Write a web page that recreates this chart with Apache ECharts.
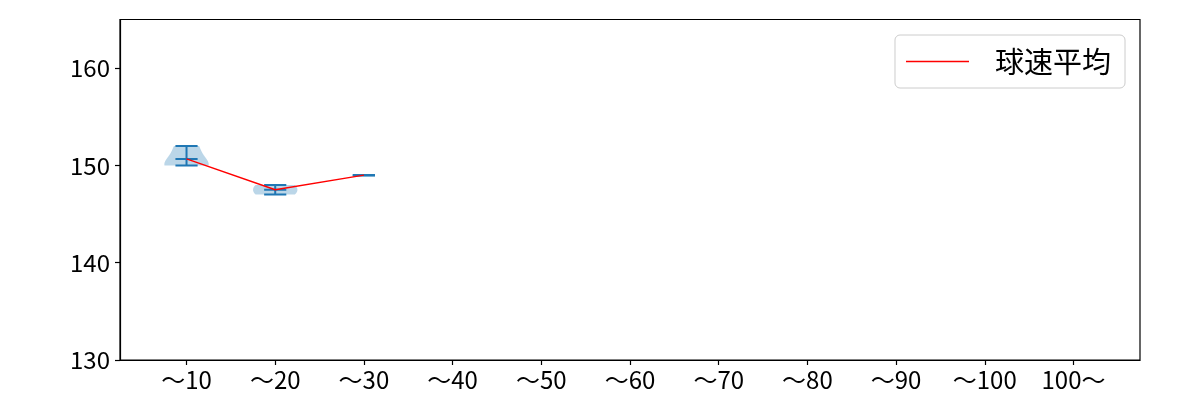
<!DOCTYPE html>
<html>
<head>
<meta charset="utf-8">
<script src="https://cdn.jsdelivr.net/npm/echarts@6/dist/echarts.min.js"></script>
<style>
html,body{margin:0;padding:0;background:#fff;}
#chart{width:1200px;height:400px;}
</style>
</head>
<body>
<div id="chart"></div>
<script>
// ---- data ----
const categories = ['～10','～20','～30','～40','～50','～60','～70','～80','～90','～100','100～'];
const speeds10 = [150, 150, 152];
const speeds20 = [147, 148];
const speeds30 = [149];
const speeds40 = [];
const speeds50 = [];
const speeds60 = [];
const speeds70 = [];
const speeds80 = [];
const speeds90 = [];
const speeds100 = [];
const speedsOver100 = [];
const yTicks = [130, 140, 150, 160];
const legendName = '球速平均';

const groups = [speeds10, speeds20, speeds30, speeds40, speeds50, speeds60,
  speeds70, speeds80, speeds90, speeds100, speedsOver100];
const positions = categories.map((c, i) => i + 1);

function mean(a){ return a.reduce((s,v)=>s+v,0)/a.length; }
function kdeCurve(a){
  const n = a.length;
  if (n < 2) return null;
  const m = mean(a);
  const variance = a.reduce((s,v)=>s+(v-m)*(v-m),0)/(n-1);
  if (variance <= 0) return null;
  const bw = Math.pow(n, -0.2) * Math.sqrt(variance);
  const lo = Math.min(...a), hi = Math.max(...a);
  const pts = [];
  for (let k = 0; k < 100; k++){
    const y = lo + (hi - lo) * k / 99;
    let d = 0;
    for (const v of a){ const z = (y - v)/bw; d += Math.exp(-0.5*z*z); }
    pts.push([y, d]);
  }
  const mx = Math.max(...pts.map(p=>p[1]));
  return pts.map(p => [p[0], p[1] / mx * 0.25]);
}

const violinData = groups.map((g, i) => g.length ? [positions[i]] : null).filter(Boolean);
const meanData = groups.map((g, i) => g.length ? [positions[i], mean(g)] : null).filter(Boolean);

const C0 = '#1f77b4';
function renderViolin(params, api){
  const pos = api.value(0);
  const g = groups[pos - 1];
  const children = [];
  const curve = kdeCurve(g);
  if (curve){
    const left = curve.map(p => api.coord([pos - p[1], p[0]]));
    const right = curve.slice().reverse().map(p => api.coord([pos + p[1], p[0]]));
    children.push({type:'polygon', shape:{points: left.concat(right)},
      style:{fill: C0, opacity: 0.3}});
  }
  const lo = Math.min(...g), hi = Math.max(...g), mu = mean(g);
  const lineStyle = {stroke: C0, lineWidth: 2};
  const bar = (y) => {
    const a = api.coord([pos - 0.125, y]), b = api.coord([pos + 0.125, y]);
    return {type:'line', shape:{x1:a[0], y1:a[1], x2:b[0], y2:b[1]}, style: lineStyle};
  };
  const top = api.coord([pos, hi]), bot = api.coord([pos, lo]);
  children.push({type:'line', shape:{x1:top[0], y1:top[1], x2:bot[0], y2:bot[1]}, style: lineStyle});
  children.push(bar(hi));
  children.push(bar(lo));
  children.push(bar(mu));
  return {type:'group', children};
}

const font = '"Noto Sans CJK JP", "Noto Sans", sans-serif';
const chart = echarts.init(document.getElementById('chart'), null, {renderer:'canvas'});
chart.setOption({
  animation: false,
  backgroundColor: '#fff',
  grid: {left:120, right:60, top:19.5, bottom:40, show:true, borderColor:'#000', borderWidth:1.2, backgroundColor:'transparent'},
  legend: {
    data: [{name: legendName, icon: 'rect'}], right: 75, top: 35,
    itemWidth: 63, itemHeight: 1.5,
    backgroundColor: '#fff', borderColor: '#cccccc', borderWidth: 1, borderRadius: 5,
    padding: [12, 14, 12, 11],
    itemStyle: {color: '#ff0000', borderWidth: 0},
    textStyle: {fontFamily: font, fontSize: 29, color: '#000', padding: [0, 0, 0, 21]}
  },
  xAxis: {
    type: 'value', min: 0.25, max: 11.75,
    axisLine: {show:true, lineStyle:{color:'#000', width:1.2}},
    axisTick: {show:true, length:5, customValues: positions, lineStyle:{color:'#000', width:1.2}},
    axisLabel: {customValues: positions, formatter: v => categories[Math.round(v) - 1] || '',
      fontFamily: font, fontSize: 24, color:'#000', margin: 8},
    splitLine: {show:false}
  },
  yAxis: {
    type: 'value', min: 130, max: 165,
    axisLine: {show:true, lineStyle:{color:'#000', width:1.2}},
    axisTick: {show:true, length:5, customValues: yTicks, lineStyle:{color:'#000', width:1.2}},
    axisLabel: {customValues: yTicks, fontFamily: font, fontSize: 24, color:'#000', margin: 10},
    splitLine: {show:false}
  },
  series: [
    {type:'custom', name:'violin', renderItem: renderViolin, data: violinData, clip: true, z: 2},
    {type:'line', name: legendName, data: meanData, symbol:'none', z: 5,
      lineStyle:{color:'#ff0000', width:1.4}, itemStyle:{color:'#ff0000'}}
  ]
});
</script>
</body>
</html>
